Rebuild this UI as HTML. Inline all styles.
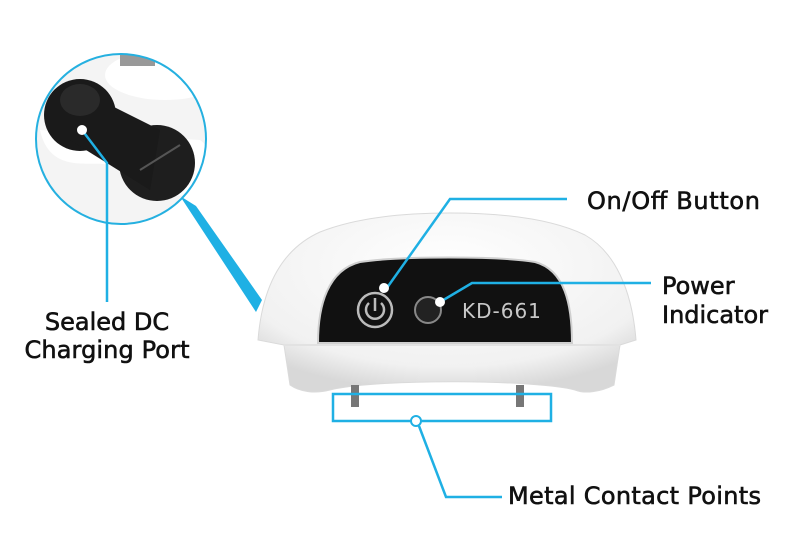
<!DOCTYPE html>
<html><head><style>body{margin:0;background:#fff}svg{display:block}text{font-family:"DejaVu Sans","Liberation Sans",sans-serif}</style></head>
<body>
<svg width="800" height="533" viewBox="0 0 800 533" xmlns="http://www.w3.org/2000/svg">
<defs>
<radialGradient id="sh" cx="50%" cy="30%" r="70%"><stop offset="0" stop-color="#ffffff"/><stop offset="0.8" stop-color="#f1f1f1"/><stop offset="1" stop-color="#d8d8d8"/></radialGradient>
<clipPath id="cc"><circle cx="121" cy="139" r="85"/></clipPath>
</defs>
<polygon points="180,196 196,206 262,300 256,312" fill="#1fb0e4"/>
<path d="M258,340 C262,290 280,250 320,232 C360,216 410,213 450,213 C500,213 550,218 585,235 C615,252 632,290 636,340 L620,345 L614,385 C600,392 585,394 575,390 C540,380 380,378 330,390 C315,394 300,392 290,385 L284,345 Z" fill="url(#sh)" stroke="#dadada"/>
<path d="M284,345 L620,345" stroke="#e2e2e2" stroke-width="2"/>
<path d="M318,343 C318,305 328,270 360,262 C400,256 500,256 535,262 C565,270 572,305 572,343 Z" fill="#111" stroke="#cfcfcf" stroke-width="2"/>
<circle cx="375" cy="310" r="17" fill="none" stroke="#bbb" stroke-width="2.5"/>
<path d="M369,303 A9,9 0 1 0 381,303" fill="none" stroke="#bbb" stroke-width="2.5"/>
<line x1="375" y1="298" x2="375" y2="311" stroke="#bbb" stroke-width="2.5"/>
<circle cx="428" cy="310" r="13" fill="#222" stroke="#888" stroke-width="2"/>
<text x="462" y="318" font-size="20" fill="#c8c8c8" font-family="Liberation Sans,sans-serif" letter-spacing="1">KD-661</text>
<rect x="351" y="385" width="8" height="22" fill="#777"/>
<rect x="516" y="385" width="8" height="22" fill="#777"/>
<g clip-path="url(#cc)">
<rect x="30" y="50" width="190" height="180" fill="#f4f4f4"/>
<ellipse cx="165" cy="75" rx="60" ry="25" fill="#fff"/>
<rect x="120" y="54" width="35" height="12" fill="#999"/>
<path d="M40,130 C50,175 90,160 110,165 C130,175 150,200 190,195 C220,185 215,150 200,140" fill="#fff"/>
<circle cx="80" cy="115" r="36" fill="#1a1a1a"/>
<circle cx="157" cy="163" r="38" fill="#1e1e1e"/>
<path d="M80,90 L160,130 L150,190 L70,140 Z" fill="#1a1a1a"/>
<ellipse cx="80" cy="100" rx="20" ry="16" fill="#2a2a2a"/>
<line x1="140" y1="170" x2="180" y2="145" stroke="#555" stroke-width="2"/>
</g>
<circle cx="121" cy="139" r="85" fill="none" stroke="#25b0e0" stroke-width="2"/>
<g stroke="#1fb0e4" stroke-width="2.5" fill="none">
<polyline points="82,130 107,163 107,302"/>
<polyline points="384,292 450,199 567,199"/>
<polyline points="440,302 472,283 651,283"/>
<rect x="333" y="394" width="218" height="27"/>
<polyline points="419,426 446,497 502,497"/>
</g>
<circle cx="82" cy="130" r="5" fill="#fff"/>
<circle cx="384" cy="288" r="5" fill="#fff"/>
<circle cx="440" cy="302" r="5" fill="#fff"/>
<circle cx="416" cy="421" r="5" fill="#fff" stroke="#1fb0e4" stroke-width="2"/>
<g font-size="24" fill="#111" stroke="#111" stroke-width="0.6">
<text x="107" y="330" text-anchor="middle">Sealed DC</text>
<text x="107" y="358" text-anchor="middle" textLength="165">Charging Port</text>
<text x="587" y="209" textLength="173">On/Off Button</text>
<text x="662" y="294">Power</text>
<text x="662" y="323" textLength="106">Indicator</text>
<text x="508" y="504" textLength="253">Metal Contact Points</text>
</g>
</svg>
</body></html>
